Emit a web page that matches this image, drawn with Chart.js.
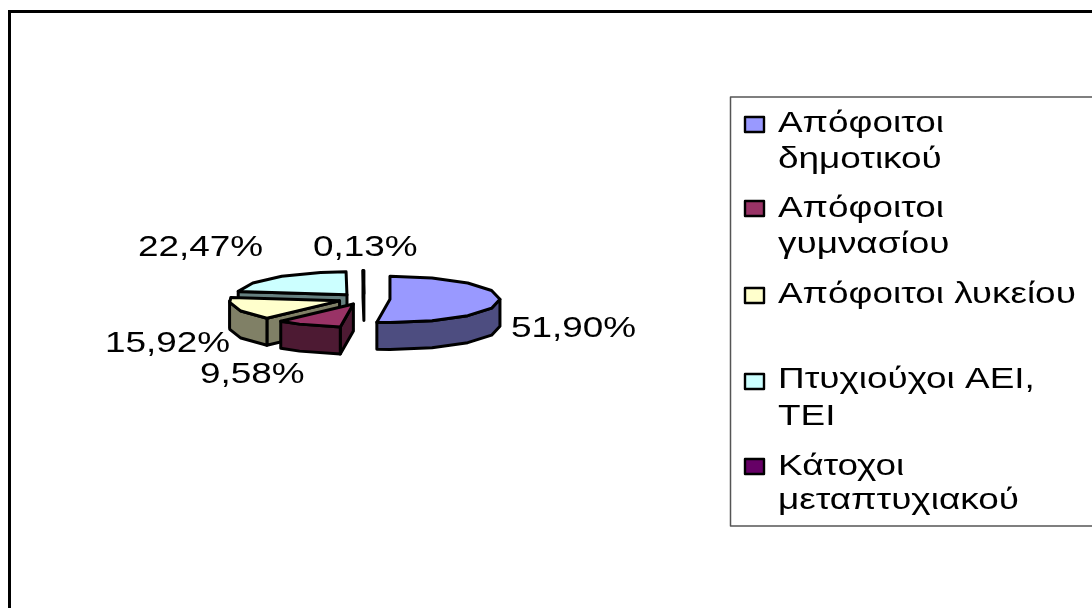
<!DOCTYPE html>
<html lang="el">
<head>
<meta charset="utf-8">
<style>html,body{margin:0;padding:0;background:#fff}canvas{display:block}</style>
<script src="https://cdn.jsdelivr.net/npm/chart.js@4"></script>
</head>
<body>
<canvas id="c" width="1092" height="608"></canvas>
<script>
const categories = ['Απόφοιτοι δημοτικού', 'Απόφοιτοι γυμνασίου', 'Απόφοιτοι λυκείου', 'Πτυχιούχοι ΑΕΙ, ΤΕΙ', 'Κάτοχοι μεταπτυχιακού'];
const shares = [51.90, 9.58, 15.92, 22.47, 0.13];
const topColors = ['#9999FF', '#993366', '#FFFFCC', '#CCFFFF', '#660066'];
const sideColors = ['#4D4D80', '#4D1A33', '#808066', '#668080', '#330033'];
const legendLines = [['Απόφοιτοι', 'δημοτικού'], ['Απόφοιτοι', 'γυμνασίου'], ['Απόφοιτοι λυκείου'], ['Πτυχιούχοι ΑΕΙ,', 'ΤΕΙ'], ['Κάτοχοι', 'μεταπτυχιακού']];

const TILT = 0.21, DEPTH = 27, STEP = Math.PI / 8;
const FONT = '30px "Liberation Sans", Arial, sans-serif', STRETCH = 1.23;
const labelAnchors = [[511, 337], [200, 383], [105, 352], [138, 256], [313, 256]];
const legendRows = [[132, 168], [217, 253], [303], [388, 425], [475, 509]];
const markerTops = [117, 201, 288, 374, 459];

function wideText(ctx, s, x, y) {
  ctx.save();
  ctx.translate(x, y);
  ctx.scale(STRETCH, 1);
  ctx.fillText(s, 0, 0);
  ctx.restore();
}

function poly(ctx, pts, fill) {
  ctx.beginPath();
  pts.forEach((p, i) => i ? ctx.lineTo(p[0], p[1]) : ctx.moveTo(p[0], p[1]));
  ctx.closePath();
  ctx.fillStyle = fill;
  ctx.fill();
  ctx.stroke();
}

const pie3d = {
  id: 'pie3d',
  beforeDraw(chart) {
    const ctx = chart.ctx;
    ctx.save();
    ctx.fillStyle = '#fff';
    ctx.fillRect(0, 0, chart.width, chart.height);
    ctx.strokeStyle = '#000';
    ctx.lineWidth = 3;
    ctx.strokeRect(9.5, 11.5, chart.width + 20, chart.height + 20);
    ctx.restore();
  },
  beforeDatasetsDraw(chart) {
    const ctx = chart.ctx;
    const arcs = chart.getDatasetMeta(0).data;
    const slices = arcs.map((arc, i) => {
      const mid = (arc.startAngle + arc.endAngle) / 2;
      const off = arc.options.offset;
      const cx = arc.x + off * Math.cos(mid);
      const cy = arc.y + off * Math.sin(mid) * TILT;
      const at = t => [cx + arc.outerRadius * Math.cos(t), cy + arc.outerRadius * Math.sin(t) * TILT];
      return {i, arc, cx, cy, at};
    }).sort((a, b) => a.cy - b.cy);

    ctx.save();
    ctx.strokeStyle = '#000';
    ctx.lineWidth = 3;
    ctx.lineJoin = 'round';
    ctx.lineCap = 'round';
    const down = p => [p[0], p[1] + DEPTH];
    slices.forEach(s => {
      const a0 = s.arc.startAngle, a1 = s.arc.endAngle, side = sideColors[s.i];
      const apex = [s.cx, s.cy];
      if (-Math.cos(a0) > 1e-6) poly(ctx, [apex, s.at(a0), down(s.at(a0)), down(apex)], side);
      if (Math.cos(a1) > 1e-6) poly(ctx, [apex, s.at(a1), down(s.at(a1)), down(apex)], side);
      const r0 = Math.max(a0, 0), r1 = Math.min(a1, Math.PI);
      if (r1 > r0) {
        const rim = [];
        for (let t = r0; t < r1; t += STEP) rim.push(s.at(t));
        rim.push(s.at(r1));
        poly(ctx, rim.concat(rim.slice().reverse().map(down)), side);
      }
      const top = [apex];
      for (let t = a0; t < a1; t += STEP) top.push(s.at(t));
      top.push(s.at(a1));
      poly(ctx, top, topColors[s.i]);
    });

    ctx.font = FONT;
    ctx.fillStyle = '#000';
    ctx.textBaseline = 'alphabetic';
    ctx.textAlign = 'left';
    shares.forEach((v, i) => {
      wideText(ctx, v.toFixed(2).replace('.', ',') + '%', labelAnchors[i][0], labelAnchors[i][1]);
    });

    // legend
    ctx.strokeStyle = '#555';
    ctx.lineWidth = 1.5;
    ctx.strokeRect(730.5, 97, chart.width, 429);
    categories.forEach((c, i) => {
      ctx.strokeStyle = '#000';
      ctx.lineWidth = 2.4;
      ctx.fillStyle = topColors[i];
      ctx.fillRect(745, markerTops[i], 19, 15);
      ctx.strokeRect(745, markerTops[i], 19, 15);
      ctx.fillStyle = '#000';
      legendLines[i].forEach((ln, k) => wideText(ctx, ln, 778, legendRows[i][k]));
    });
    ctx.restore();
    return false;
  }
};

new Chart(document.getElementById('c'), {
  type: 'pie',
  data: {
    labels: categories,
    datasets: [{data: shares, backgroundColor: topColors, borderWidth: 0, offset: 26, hoverOffset: 0}]
  },
  options: {
    responsive: false,
    animation: false,
    events: [],
    layout: {padding: {left: 241, right: 605, top: 176, bottom: 186}},
    plugins: {legend: {display: false}, tooltip: {enabled: false}, title: {display: false}}
  },
  plugins: [pie3d]
});
</script>
</body>
</html>
